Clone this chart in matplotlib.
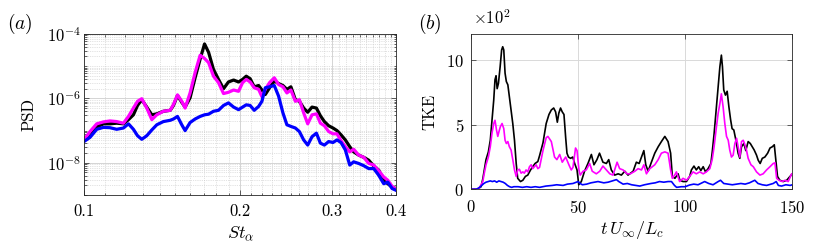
import numpy as np
import matplotlib
matplotlib.use("Agg")
import matplotlib.pyplot as plt

plt.rcParams['font.family'] = 'serif'
plt.rcParams['font.serif'] = ['cmr10', 'DejaVu Serif']
plt.rcParams['mathtext.fontset'] = 'cm'
plt.rcParams['axes.formatter.use_mathtext'] = True
plt.rcParams['axes.unicode_minus'] = False

# ---- panel (a): PSD vs St_alpha (log10 of PSD) ----
st = [0.1000, 0.1027, 0.1058, 0.1090, 0.1122, 0.1156, 0.1191, 0.1218, 0.1245, 0.1268,
      0.1292, 0.1321, 0.1351, 0.1381, 0.1422, 0.1466, 0.1487, 0.1514, 0.1543, 0.1566,
      0.1601, 0.1637, 0.1674, 0.1707, 0.1738, 0.1776, 0.1816, 0.1857, 0.1898, 0.1942,
      0.1985, 0.2021, 0.2054, 0.2090, 0.2128, 0.2170, 0.2202, 0.2235, 0.2278, 0.2326,
      0.2371, 0.2417, 0.2460, 0.2504, 0.2554, 0.2600, 0.2650, 0.2698, 0.2750, 0.2804,
      0.2854, 0.2905, 0.2961, 0.3018, 0.3072, 0.3127, 0.3188, 0.3251, 0.3308, 0.3382,
      0.3459, 0.3537, 0.3616, 0.3698, 0.3780, 0.3848, 0.3923, 0.4000]

psd_black = [-7.29, -7.08, -6.89, -6.79, -6.79, -6.77, -6.79, -6.66, -6.51, -6.22,
             -6.04, -6.27, -6.51, -6.48, -6.40, -6.37, -6.22, -5.91, -6.12, -6.27,
             -5.98, -5.36, -4.78, -4.31, -4.57, -5.10, -5.41, -5.70, -5.49, -5.43,
             -5.49, -5.41, -5.31, -5.39, -5.64, -5.60, -5.74, -5.88, -5.67, -5.46,
             -5.54, -5.60, -5.72, -5.64, -6.04, -6.09, -6.30, -6.43, -6.27, -6.30,
             -6.54, -6.72, -6.85, -6.92, -7.00, -7.13, -7.29, -7.50, -7.66, -7.76,
             -7.83, -7.92, -8.10, -8.23, -8.54, -8.65, -8.75, -8.81]

psd_magenta = [-7.29, -7.03, -6.79, -6.73, -6.70, -6.72, -6.77, -6.56, -6.30, -6.09,
               -6.01, -6.30, -6.66, -6.51, -6.40, -6.37, -6.19, -5.89, -6.09, -6.30,
               -5.83, -5.20, -4.66, -4.76, -4.89, -5.31, -5.51, -5.85, -5.81, -5.74,
               -5.78, -5.51, -5.41, -5.49, -5.67, -5.72, -5.95, -5.72, -5.51, -5.36,
               -5.57, -5.64, -5.83, -5.74, -6.09, -6.04, -6.45, -6.79, -6.51, -6.48,
               -6.77, -6.85, -7.03, -7.10, -7.10, -7.31, -7.50, -7.66, -7.58, -7.76,
               -7.83, -8.02, -8.07, -8.25, -8.44, -8.54, -8.73, -8.84]

psd_blue = [-7.34, -7.21, -6.96, -6.90, -6.91, -6.96, -6.92, -6.79, -6.96, -7.16,
            -7.27, -7.16, -6.98, -6.82, -6.72, -6.68, -6.64, -6.56, -6.82, -7.00,
            -6.75, -6.64, -6.56, -6.51, -6.49, -6.40, -6.37, -6.22, -6.14, -6.27,
            -6.35, -6.27, -6.20, -6.22, -6.37, -6.25, -6.09, -5.67, -5.64, -5.60,
            -5.93, -6.45, -6.82, -6.87, -6.92, -7.03, -7.29, -7.45, -7.19, -7.08,
            -7.39, -7.45, -7.34, -7.37, -7.29, -7.37, -7.60, -8.07, -7.97, -8.02,
            -8.09, -8.18, -8.18, -8.39, -8.65, -8.60, -8.80, -8.86]

# ---- panel (b): TKE (x10^2) vs t U_inf / L_c ----
t_black = [0, 3, 3.4, 4.7, 5.5, 6.2, 7.0, 8.1, 9.0, 9.8, 10.6, 11.2, 11.7, 12.2, 12.8,
           13.6, 14.3, 14.8, 15.3, 15.9, 16.5, 17.2, 17.9, 18.7, 19.5, 20.3, 21.1, 21.8,
           23.1, 24.2, 25.4, 26.5, 27.8, 28.8, 29.9, 31.2, 32.0, 33.6, 34.3, 35.1, 36.4,
           37.5, 38.6, 39.5, 40.3, 41.0, 41.8, 42.6, 43.4, 44.2, 44.8, 45.5, 46.5, 47.5,
           48.4, 49.5, 50.3, 51.5, 53.0, 54.6, 56.2, 57.4, 58.8, 60.0, 61.6, 63.2, 64.3,
           65.5, 67.1, 68.7, 70.2, 71.8, 73.3, 75.7, 77.2, 78.5, 79.6, 80.7, 81.6, 82.7,
           84.0, 85.8, 87.4, 88.9, 90.5, 92.0, 93.2, 94.0, 95.2, 96.7, 97.5, 99.0, 100.6,
           102.1, 102.9, 104.1, 105.2, 106.3, 107.3, 108.4, 109.5, 110.7, 112.0, 112.7,
           113.5, 114.6, 115.4, 116.2, 116.9, 117.4, 118.0, 118.8, 119.6, 120.4, 121.2,
           121.9, 122.7, 123.5, 124.1, 124.7, 125.5, 126.3, 127.4, 128.3, 129.4, 130.4,
           131.3, 132.2, 133.3, 134.1, 135.0, 136.0, 137.2, 138.5, 139.6, 140.7, 141.6,
           142.4, 143.1, 144.2, 145.8, 147.4, 149.0, 150.0]
tke_black = [0, 0, 0.05, 0.2, 0.8, 1.5, 2.3, 2.9, 3.8, 5.4, 6.9, 8.5, 8.8, 7.8, 8.2,
             9.5, 10.8, 11.05, 10.8, 9.0, 8.35, 8.1, 7.2, 6.15, 5.1, 3.8, 2.0, 0.85,
             0.6, 0.7, 1.0, 1.1, 1.5, 1.75, 2.0, 2.15, 2.6, 3.6, 4.3, 5.1, 5.8,
             6.15, 6.3, 6.0, 5.2, 5.9, 6.3, 6.0, 5.8, 4.0, 2.8, 2.5, 2.4, 2.5,
             2.0, 1.5, 0.35, 0.6, 1.4, 2.0, 2.7, 1.9, 2.3, 2.8, 2.1, 2.0, 2.3,
             1.5, 1.1, 1.2, 1.1, 1.4, 1.1, 1.4, 2.1, 2.0, 2.5, 3.0, 1.9, 1.4,
             2.0, 2.8, 3.3, 3.7, 4.1, 3.7, 2.8, 1.0, 0.85, 1.2, 0.7, 0.6, 0.6,
             1.0, 1.5, 1.8, 1.5, 1.75, 1.45, 1.75, 1.35, 1.6, 2.0, 3.0,
             4.3, 6.4, 8.0, 9.5, 10.4, 9.5, 7.7, 7.3, 7.6, 6.4, 5.4,
             4.7, 4.6, 3.95, 3.4, 2.8, 2.4, 3.3, 3.55, 3.0, 3.7, 3.55,
             3.3, 3.05, 2.65, 2.25, 2.0, 2.4, 2.5, 2.8, 3.2, 3.3, 3.45,
             2.15, 1.0, 0.7, 0.6, 0.7, 1.0, 1.2]

t_magenta = [0, 3.5, 4.7, 5.5, 6.2, 7.0, 8.1, 9.0, 9.8, 10.6, 11.2, 11.9, 12.5, 13.1,
             13.7, 14.5, 15.3, 15.9, 16.5, 17.2, 17.9, 18.7, 19.5, 20.3, 21.1, 21.8,
             22.6, 23.4, 24.2, 24.9, 25.7, 26.5, 27.3, 28.1, 28.8, 29.6, 30.4, 31.2,
             32.0, 33.6, 35.1, 35.9, 37.5, 39.0, 40.1, 41.4, 42.6, 44.2, 45.7, 46.8,
             47.6, 48.8, 49.5, 50.4, 51.0, 52.3, 53.8, 55.4, 56.6, 58.5, 60.1, 61.6,
             63.2, 64.8, 66.3, 68.2, 69.4, 71.0, 72.9, 74.4, 76.5, 78.0, 79.6, 80.7,
             81.9, 83.5, 85.8, 87.4, 88.9, 90.5, 92.0, 93.2, 94.0, 95.1, 95.9, 97.4,
             99.0, 100.6, 102.1, 103.7, 105.2, 106.8, 108.4, 109.9, 111.5, 112.6,
             113.5, 114.6, 115.4, 116.2, 116.9, 117.7, 118.5, 119.3, 120.1, 120.8,
             121.6, 122.4, 123.2, 124.0, 124.7, 125.5, 126.3, 127.1, 127.9, 128.6,
             129.4, 130.7, 131.8, 133.3, 134.9, 136.4, 138.0, 139.6, 141.1, 141.9,
             142.7, 143.8, 145.3, 146.6, 148.1, 149.7, 150.0]
tke_magenta = [0, 0, 0.35, 0.6, 1.25, 1.9, 2.5, 3.3, 4.35, 5.1, 5.35, 4.6, 4.1, 4.5,
               4.85, 5.1, 4.7, 3.8, 3.55, 3.7, 3.3, 3.05, 2.3, 1.5, 1.0, 1.5,
               1.55, 1.25, 1.35, 1.25, 1.5, 1.35, 1.75, 1.9, 1.6, 1.75, 1.9, 1.6,
               1.7, 3.0, 4.0, 4.1, 3.7, 2.5, 2.3, 2.7, 2.1, 2.5, 1.9, 1.5,
               1.7, 3.2, 3.0, 1.5, 1.1, 1.4, 1.5, 2.0, 1.4, 1.2, 1.4, 1.8,
               1.5, 1.2, 1.1, 2.1, 1.6, 1.5, 1.2, 1.2, 1.4, 1.6, 1.5, 1.9,
               1.2, 1.6, 1.9, 2.3, 2.8, 2.9, 2.8, 1.5, 0.85, 1.1, 1.35, 0.6,
               0.85, 0.7, 1.0, 1.35, 1.2, 1.35, 1.2, 1.35, 1.6, 2.3,
               3.3, 4.85, 5.9, 6.65, 7.4, 6.4, 5.1, 4.1, 3.8, 3.05,
               2.5, 2.65, 3.55, 3.95, 3.3, 2.5, 3.7, 3.8, 3.45, 3.05,
               2.4, 1.9, 1.75, 1.35, 1.1, 1.2, 1.5, 1.75, 2.0, 2.05,
               0.85, 0.7, 0.6, 0.7, 0.6, 1.2, 1.2]

t_blue = [0, 2.5, 3, 4, 5, 6, 7, 8, 9, 10, 11, 12, 13, 14, 15, 16, 17, 18, 19, 20, 22,
          24, 26, 28, 30, 32, 35, 38, 40, 43, 45, 47.6, 50, 51, 52, 54, 56, 59.3, 62,
          64, 66, 67.9, 69, 71, 73, 75, 78.8, 81, 84, 86, 88, 90, 92, 93.6, 95, 96,
          98.2, 100, 102, 104, 106, 109.1, 111, 113, 115.4, 116.5, 118, 120, 122, 124,
          126, 128, 130, 132.5, 134, 136, 138, 141.1, 142.5, 143.5, 145, 147, 149, 150]
tke_blue = [0, 0, 0.05, 0.15, 0.3, 0.45, 0.55, 0.6, 0.65, 0.6, 0.65, 0.55, 0.65, 0.6,
            0.55, 0.45, 0.3, 0.2, 0.15, 0.2, 0.2, 0.15, 0.2, 0.15, 0.2, 0.15, 0.25,
            0.3, 0.35, 0.3, 0.4, 0.45, 0.6, 0.45, 0.35, 0.4, 0.5, 0.6, 0.5, 0.55,
            0.65, 0.75, 0.6, 0.4, 0.45, 0.35, 0.25, 0.35, 0.45, 0.5, 0.6, 0.55, 0.6,
            0.6, 0.3, 0.15, 0.2, 0.2, 0.33, 0.4, 0.35, 0.6, 0.45, 0.35, 0.6, 0.7,
            0.45, 0.4, 0.35, 0.4, 0.45, 0.4, 0.5, 0.7, 0.45, 0.35, 0.3, 0.45, 0.6,
            0.3, 0.25, 0.35, 0.3, 0.35]

axis_col = '#262626'


def style_axes(ax):
    for sp in ax.spines.values():
        sp.set_color(axis_col)
        sp.set_linewidth(0.6)
    ax.tick_params(which='both', direction='in', top=True, right=True,
                   colors=axis_col, labelcolor='black', labelsize=12, width=0.5)
    ax.tick_params(which='major', length=3.5)
    ax.tick_params(which='minor', length=1.8)


fig = plt.figure(figsize=(8.31, 2.49), dpi=100)

# (a)
ax1 = fig.add_axes([0.1011, 0.2169, 0.3760, 0.6466])
ax1.plot(st, 10 ** np.array(psd_black), color='black', lw=2.3)
ax1.plot(st, 10 ** np.array(psd_magenta), color='#ff00ff', lw=2.3)
ax1.plot(st, 10 ** np.array(psd_blue), color='#0000ff', lw=2.3)
ax1.set_xscale('log')
ax1.set_yscale('log')
ax1.set_xlim(0.1, 0.4)
ax1.set_ylim(1e-9, 1e-4)
ax1.set_xticks([0.1, 0.2, 0.3, 0.4])
ax1.set_xticklabels(['0.1', '0.2', '0.3', '0.4'])
ax1.set_xticks([k / 100 for k in range(11, 40) if k not in (20, 30)], minor=True)
ax1.xaxis.set_minor_formatter(matplotlib.ticker.NullFormatter())
ax1.set_yticks([1e-8, 1e-6, 1e-4])
ax1.set_yticklabels([r'$10^{-8}$', r'$10^{-6}$', r'$10^{-4}$'])
ax1.set_yticks([k * 10.0 ** e for e in range(-9, -4) for k in range(1, 10)
                if not (k == 1 and e in (-8, -6))], minor=True)
ax1.yaxis.set_minor_formatter(matplotlib.ticker.NullFormatter())
ax1.grid(True, which='major', color='#d4d4d4', lw=0.7, ls='-')
ax1.grid(True, which='minor', color='#c6c6c6', lw=0.5, ls=':')
ax1.set_axisbelow(True)
style_axes(ax1)
ax1.tick_params(axis='x', which='major', pad=6)
ax1.tick_params(axis='y', which='major', pad=2)
ax1.set_xlabel(r'$St_\alpha$', fontsize=13, labelpad=4)
ax1.set_ylabel('PSD', fontsize=12, labelpad=8)
fig.text(0.008, 0.905, r'$(a)$', fontsize=14, va='center', ha='left')

# (b)
ax2 = fig.add_axes([0.5668, 0.2398, 0.3866, 0.6217])
ax2.plot(t_black, tke_black, color='black', lw=1.2)
ax2.plot(t_magenta, tke_magenta, color='#ff00ff', lw=1.2)
ax2.plot(t_blue, tke_blue, color='#0000ff', lw=1.2)
ax2.set_xlim(0, 150)
ax2.set_ylim(0, 12)
ax2.set_xticks([0, 50, 100, 150])
ax2.set_yticks([0, 5, 10])
ax2.grid(True, which='major', color='#d9d9d9', lw=0.7)
ax2.set_axisbelow(True)
style_axes(ax2)
ax2.tick_params(axis='x', pad=7)
ax2.tick_params(axis='y', pad=5)
ax2.set_xlabel(r'$t\,U_\infty/L_c$', fontsize=13, labelpad=2)
ax2.set_ylabel('TKE', fontsize=12, labelpad=6)
fig.text(0.503, 0.905, r'$(b)$', fontsize=14, va='center', ha='left')
fig.text(0.569, 0.93, r'$\times10^{2}$', fontsize=12, va='center', ha='left')

fig.savefig('out.png', dpi=100)
